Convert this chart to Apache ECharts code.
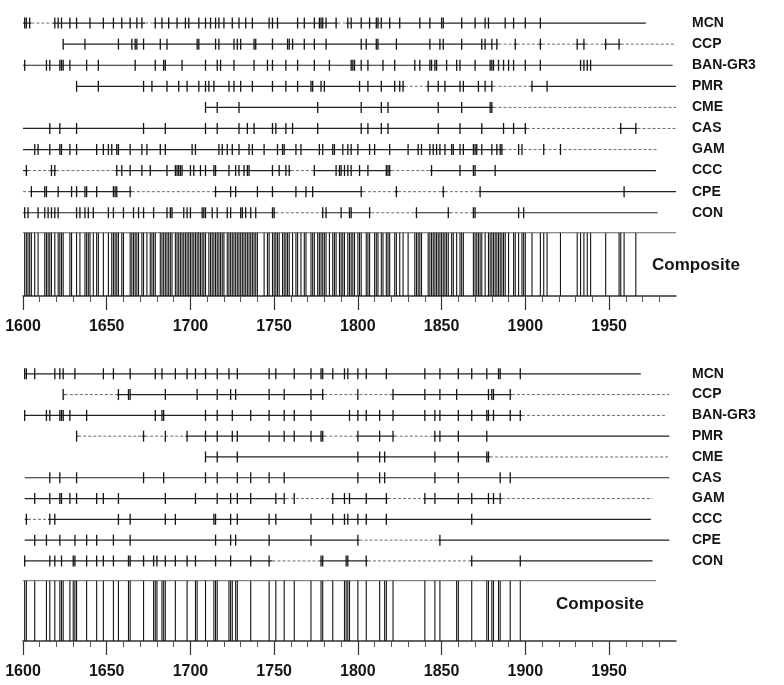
<!DOCTYPE html>
<html>
<head>
<meta charset="utf-8">
<script src="https://cdn.jsdelivr.net/npm/echarts@6/dist/echarts.min.js"></script>
<style>
  html, body { margin: 0; padding: 0; background: #fff; }
  #chart { width: 784px; height: 685px; }
</style>
</head>
<body>
<div id="chart"></div>
<script>
// fire-scar chronologies, all scars (top) and filtered (bottom)
const sites = ['MCN', 'CCP', 'BAN-GR3', 'PMR', 'CME', 'CAS', 'GAM', 'CCC', 'CPE', 'CON'];
const majorYears = [1600, 1650, 1700, 1750, 1800, 1850, 1900, 1950];
const minorYears = [1610, 1620, 1630, 1640, 1660, 1670, 1680, 1690, 1710, 1720, 1730, 1740,
  1760, 1770, 1780, 1790, 1810, 1820, 1830, 1840, 1860, 1870, 1880, 1890, 1910, 1920, 1930,
  1940, 1960, 1970, 1980];

const topSpans = [[1600, 1972], [1624, 1990], [1600, 1988], [1632, 1990], [1709, 1990],
  [1600, 1990], [1600, 1979], [1600, 1978], [1600, 1990], [1600, 1979]];

// [row, from, to] stretches drawn dotted (non-recording)
const topDotted = [
  [0, 1605, 1618], [0, 1673, 1678], [0, 1788, 1793],
  [1, 1884, 1893], [1, 1895, 1908], [1, 1910, 1930], [1, 1936, 1947], [1, 1957, 1990],
  [3, 1828, 1841], [3, 1881, 1903],
  [4, 1881, 1990],
  [5, 1901, 1956], [5, 1967, 1990],
  [6, 1887, 1979],
  [7, 1603, 1616], [7, 1620, 1655], [7, 1760, 1773], [7, 1820, 1843],
  [8, 1600, 1604], [8, 1665, 1714], [8, 1803, 1822], [8, 1824, 1850], [8, 1852, 1872],
  [9, 1751, 1778], [9, 1808, 1834], [9, 1855, 1868]
];

const topScars = [
  // MCN
  [1601, 1602, 1604, 1619, 1621, 1623, 1628, 1632, 1640, 1648, 1654, 1659, 1664, 1668, 1671,
    1679, 1683, 1687, 1692, 1697, 1699, 1705, 1709, 1712, 1715, 1717, 1720, 1725, 1729, 1733,
    1737, 1747, 1749, 1752, 1764, 1768, 1774, 1777, 1778, 1779, 1781, 1787, 1794, 1796, 1802,
    1807, 1811, 1812, 1814, 1819, 1825, 1837, 1843, 1850, 1851, 1862, 1870, 1876, 1878, 1888,
    1893, 1900, 1909],
  // CCP
  [1624, 1637, 1657, 1665, 1667, 1668, 1672, 1682, 1686, 1704, 1705, 1715, 1717, 1726, 1728,
    1730, 1738, 1739, 1749, 1758, 1759, 1761, 1768, 1774, 1781, 1802, 1805, 1811, 1812, 1823,
    1843, 1849, 1851, 1862, 1874, 1876, 1880, 1883, 1894, 1909, 1931, 1935, 1948, 1956],
  // BAN-GR3
  [1601, 1614, 1616, 1622, 1623, 1624, 1628, 1638, 1645, 1667, 1679, 1684, 1685, 1695, 1709,
    1716, 1718, 1726, 1738, 1746, 1749, 1757, 1764, 1774, 1783, 1796, 1797, 1798, 1802, 1806,
    1815, 1822, 1834, 1837, 1843, 1844, 1846, 1847, 1853, 1859, 1861, 1870, 1879, 1880, 1881,
    1884, 1887, 1890, 1893, 1900, 1909, 1933, 1935, 1937, 1939],
  // PMR
  [1632, 1645, 1672, 1677, 1686, 1693, 1698, 1705, 1709, 1711, 1714, 1723, 1726, 1730, 1737,
    1749, 1757, 1764, 1772, 1773, 1778, 1780, 1801, 1806, 1814, 1822, 1825, 1827, 1842, 1848,
    1852, 1861, 1863, 1872, 1876, 1880, 1904, 1913],
  // CME
  [1709, 1716, 1729, 1776, 1802, 1814, 1818, 1848, 1862, 1879, 1880],
  // CAS
  [1616, 1622, 1632, 1672, 1685, 1709, 1716, 1729, 1734, 1738, 1749, 1751, 1757, 1761, 1776,
    1802, 1806, 1814, 1818, 1848, 1861, 1874, 1887, 1893, 1900, 1957, 1966],
  // GAM
  [1607, 1609, 1616, 1622, 1623, 1628, 1632, 1644, 1648, 1651, 1653, 1656, 1657, 1664, 1671,
    1674, 1682, 1685, 1701, 1703, 1717, 1719, 1722, 1725, 1729, 1735, 1737, 1744, 1752, 1755,
    1756, 1763, 1766, 1777, 1779, 1785, 1786, 1791, 1794, 1796, 1800, 1807, 1810, 1819, 1830,
    1836, 1838, 1843, 1845, 1847, 1849, 1852, 1856, 1857, 1861, 1863, 1869, 1870, 1871, 1874,
    1880, 1883, 1885, 1886, 1896, 1898, 1911, 1921],
  // CCC
  [1602, 1617, 1619, 1656, 1659, 1664, 1671, 1676, 1686, 1691, 1692, 1693, 1694, 1695, 1700,
    1702, 1706, 1709, 1714, 1715, 1723, 1727, 1729, 1732, 1734, 1735, 1749, 1753, 1757, 1759,
    1774, 1787, 1789, 1790, 1792, 1794, 1796, 1801, 1806, 1817, 1818, 1819, 1844, 1861, 1869,
    1870, 1882],
  // CPE
  [1605, 1613, 1614, 1621, 1629, 1632, 1637, 1638, 1644, 1654, 1655, 1656, 1664, 1715, 1724,
    1727, 1740, 1749, 1763, 1769, 1773, 1802, 1823, 1851, 1873, 1959],
  // CON
  [1601, 1603, 1609, 1613, 1615, 1617, 1619, 1621, 1632, 1634, 1637, 1639, 1642, 1651, 1654,
    1660, 1666, 1669, 1672, 1678, 1686, 1688, 1689, 1696, 1698, 1700, 1707, 1708, 1709, 1713,
    1716, 1722, 1724, 1730, 1731, 1733, 1736, 1739, 1749, 1750, 1779, 1781, 1790, 1795, 1796,
    1807, 1835, 1854, 1869, 1870, 1896, 1899]
];

const bottomSpans = [[1601, 1969], [1624, 1986], [1601, 1984], [1632, 1986], [1709, 1986],
  [1601, 1986], [1601, 1976], [1601, 1975], [1601, 1986], [1601, 1976]];

const bottomDotted = [
  [1, 1625, 1656], [1, 1780, 1820], [1, 1892, 1986],
  [2, 1898, 1984],
  [3, 1633, 1671], [3, 1673, 1697], [3, 1780, 1799], [3, 1822, 1845],
  [4, 1879, 1986],
  [6, 1757, 1784], [6, 1818, 1839], [6, 1886, 1976],
  [7, 1603, 1615],
  [8, 1801, 1848],
  [9, 1749, 1777], [9, 1806, 1867]
];

const bottomScars = [
  // MCN
  [1601, 1602, 1607, 1619, 1622, 1624, 1631, 1648, 1654, 1664, 1679, 1683, 1691, 1698, 1703,
    1709, 1716, 1723, 1728, 1747, 1751, 1762, 1772, 1778, 1779, 1785, 1792, 1794, 1800, 1805,
    1817, 1840, 1849, 1860, 1868, 1877, 1884, 1885, 1897],
  // CCP
  [1624, 1657, 1663, 1664, 1685, 1704, 1716, 1724, 1727, 1747, 1756, 1772, 1779, 1800, 1821,
    1840, 1849, 1859, 1878, 1880, 1881, 1891],
  // BAN-GR3
  [1601, 1614, 1616, 1622, 1623, 1624, 1628, 1638, 1679, 1683, 1684, 1709, 1716, 1725, 1736,
    1747, 1756, 1762, 1772, 1795, 1800, 1805, 1813, 1821, 1840, 1846, 1849, 1860, 1868, 1877,
    1878, 1881, 1891, 1897],
  // PMR
  [1632, 1672, 1685, 1698, 1709, 1716, 1725, 1728, 1747, 1756, 1762, 1772, 1778, 1779, 1800,
    1813, 1821, 1846, 1849, 1860, 1877],
  // CME
  [1709, 1716, 1728, 1800, 1813, 1816, 1846, 1860, 1877, 1878],
  // CAS
  [1616, 1622, 1632, 1672, 1684, 1709, 1716, 1728, 1736, 1747, 1756, 1800, 1813, 1816, 1846,
    1860, 1885, 1891],
  // GAM
  [1607, 1616, 1622, 1623, 1628, 1632, 1644, 1648, 1657, 1685, 1703, 1716, 1724, 1728, 1736,
    1751, 1756, 1762, 1785, 1792, 1795, 1805, 1817, 1840, 1846, 1860, 1868, 1878, 1881, 1885],
  // CCC
  [1602, 1616, 1619, 1657, 1664, 1685, 1691, 1714, 1715, 1724, 1728, 1747, 1751, 1772, 1785,
    1792, 1794, 1800, 1805, 1817, 1868],
  // CPE
  [1607, 1614, 1622, 1631, 1638, 1644, 1654, 1664, 1715, 1724, 1727, 1747, 1772, 1800, 1849],
  // CON
  [1601, 1616, 1619, 1623, 1630, 1631, 1638, 1644, 1648, 1654, 1663, 1664, 1672, 1678, 1680,
    1685, 1691, 1698, 1703, 1715, 1724, 1736, 1747, 1778, 1779, 1793, 1794, 1805, 1868, 1897]
];

const COMP_TOP = 9.95;
const COMP_BOTTOM = [12.95, 12.85];
const BOX_END = [1990, 1978];

const chart = echarts.init(document.getElementById('chart'));
const font = 'Liberation Sans, Arial, sans-serif';
const ink = '#151515';

function scarData(scars) {
  const out = [];
  scars.forEach((years, row) => years.forEach(y => out.push([y, row])));
  return out;
}

function union(scars) {
  const set = new Set();
  scars.forEach(years => years.forEach(y => set.add(y)));
  return Array.from(set).sort((a, b) => a - b).map(y => [y]);
}

// split each row's span into solid and dotted pieces: [from, to, row, dotted]
function spanData(spans, dotted) {
  const out = [];
  spans.forEach((s, row) => {
    let cur = s[0];
    dotted.filter(d => d[0] === row).sort((a, b) => a[1] - b[1]).forEach(d => {
      if (d[1] > cur) out.push([cur, d[1], row, 0]);
      out.push([d[1], d[2], row, 1]);
      cur = d[2];
    });
    if (cur < s[1]) out.push([cur, s[1], row, 0]);
  });
  return out;
}

function renderScar(params, api) {
  const p = api.coord([api.value(0), api.value(1)]);
  return {
    type: 'line',
    shape: { x1: p[0], y1: p[1] - 5.5, x2: p[0], y2: p[1] + 5.5 },
    style: { stroke: ink, lineWidth: 1.3 }
  };
}

function renderSpan(params, api) {
  const a = api.coord([api.value(0), api.value(2)]);
  const b = api.coord([api.value(1), api.value(2)]);
  const dotted = api.value(3) === 1;
  return {
    type: 'line',
    shape: { x1: a[0], y1: a[1], x2: b[0], y2: b[1] },
    style: dotted
      ? { stroke: '#6a6a6a', lineWidth: 1, lineDash: [3, 2] }
      : { stroke: '#222', lineWidth: 1.2 }
  };
}

function makeComposite(bottom) {
  return function (params, api) {
    const a = api.coord([api.value(0), COMP_TOP]);
    const b = api.coord([api.value(0), bottom]);
    return {
      type: 'line',
      shape: { x1: a[0], y1: a[1], x2: b[0], y2: b[1] },
      style: { stroke: ink, lineWidth: 1.1 }
    };
  };
}

function renderBoxTop(params, api) {
  const a = api.coord([api.value(0), COMP_TOP]);
  const b = api.coord([api.value(1), COMP_TOP]);
  return {
    type: 'line',
    shape: { x1: a[0], y1: a[1], x2: b[0], y2: b[1] },
    style: { stroke: '#666', lineWidth: 1 }
  };
}

function xAxes(gi) {
  return [
    {
      gridIndex: gi, type: 'value', min: 1600, max: 1990, position: 'bottom',
      axisLine: { onZero: false, lineStyle: { color: '#333', width: 1.5 } },
      axisTick: { customValues: majorYears, length: 14, lineStyle: { color: '#333', width: 1.2 } },
      axisLabel: {
        customValues: majorYears, formatter: v => String(v), margin: 23, fontSize: 16,
        fontWeight: 'bold', fontFamily: font, color: ink
      },
      splitLine: { show: false }
    },
    {
      gridIndex: gi, type: 'value', min: 1600, max: 1990, position: 'bottom',
      axisLine: { show: false, onZero: false },
      axisTick: { customValues: minorYears, length: 6, lineStyle: { color: '#555', width: 1 } },
      axisLabel: { show: false },
      splitLine: { show: false }
    }
  ];
}

function yAxis(gi, max) {
  return {
    gridIndex: gi, type: 'value', inverse: true, min: -1, max: max, position: 'right',
    axisLine: { show: false }, axisTick: { show: false }, splitLine: { show: false },
    axisLabel: {
      customValues: [0, 1, 2, 3, 4, 5, 6, 7, 8, 9],
      formatter: v => sites[v] || '',
      margin: 16, fontSize: 14, fontWeight: 'bold', fontFamily: font, color: ink
    }
  };
}

function panelSeries(gi, spans, dotted, scars) {
  const xi = gi * 2;
  return [
    {
      type: 'custom', xAxisIndex: xi, yAxisIndex: gi, renderItem: renderSpan,
      data: spanData(spans, dotted), silent: true
    },
    {
      type: 'custom', xAxisIndex: xi, yAxisIndex: gi, renderItem: renderScar,
      data: scarData(scars), silent: true
    },
    {
      type: 'custom', xAxisIndex: xi, yAxisIndex: gi, renderItem: renderBoxTop,
      data: [[1600, BOX_END[gi]]], silent: true
    },
    {
      type: 'custom', xAxisIndex: xi, yAxisIndex: gi, renderItem: makeComposite(COMP_BOTTOM[gi]),
      data: union(scars), silent: true
    }
  ];
}

chart.setOption({
  animation: false,
  backgroundColor: '#fff',
  grid: [
    { left: 23, width: 653, top: 2, height: 294 },
    { left: 23, width: 653, top: 353, height: 288 }
  ],
  xAxis: [...xAxes(0), ...xAxes(1)],
  yAxis: [yAxis(0, COMP_BOTTOM[0]), yAxis(1, COMP_BOTTOM[1])],
  graphic: [
    {
      type: 'text', left: 652, top: 257,
      style: { text: 'Composite', fontSize: 17, fontWeight: 'bold', fontFamily: font, fill: ink }
    },
    {
      type: 'text', left: 556, top: 596,
      style: { text: 'Composite', fontSize: 17, fontWeight: 'bold', fontFamily: font, fill: ink }
    }
  ],
  series: [
    ...panelSeries(0, topSpans, topDotted, topScars),
    ...panelSeries(1, bottomSpans, bottomDotted, bottomScars)
  ]
});
</script>
</body>
</html>
